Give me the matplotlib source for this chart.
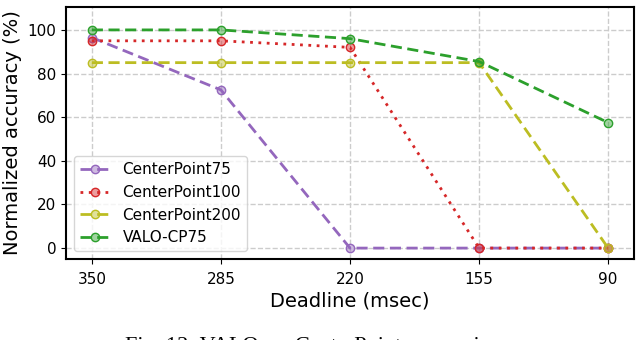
import numpy as np
import matplotlib
matplotlib.use("Agg")
import matplotlib.pyplot as plt
from matplotlib.colors import to_rgba

deadlines = ["350", "285", "220", "155", "90"]
cp75 = [96.5, 72.5, 0, 0, 0]
cp100 = [95, 95, 92, 0, 0]
cp200 = [85, 85, 85, 85, 0]
valo = [100, 100, 96, 85.5, 57.5]

series = [
    ("CenterPoint75", cp75, "#9467bd", (0, (4, 2))),
    ("CenterPoint100", cp100, "#d62728", (0, (1, 2))),
    ("CenterPoint200", cp200, "#bcbd22", (0, (4, 2))),
    ("VALO-CP75", valo, "#2ca02c", (0, (4, 2))),
]

fig = plt.figure(figsize=(6.36, 3.4), dpi=100)
ax = fig.add_axes([66 / 636, 1 - 259 / 340, 568 / 636, 252 / 340])
x = np.arange(len(deadlines))

for name, vals, col, ls in series:
    ax.plot(x, vals, linestyle=ls, color=col, linewidth=2,
            marker="o", markersize=6, markerfacecolor=to_rgba(col, 0.45),
            markeredgecolor=col, markeredgewidth=1, label=name)

ax.set_xticks(x)
ax.set_xticklabels(deadlines)
ax.set_xlim(-0.2, 4.2)
ax.set_ylim(-5, 110.5)
ax.set_yticks([0, 20, 40, 60, 80, 100])
ax.tick_params(labelsize=11)
ax.tick_params(axis="x", pad=6)
ax.grid(True, linestyle="--", color="#cccccc", linewidth=1)
ax.set_axisbelow(True)
for s in ax.spines.values():
    s.set_linewidth(1.5)
ax.set_xlabel("Deadline (msec)", fontsize=14, labelpad=3)
ax.set_ylabel("Normalized accuracy (%)", fontsize=14)
ax.legend(loc="lower left", fontsize=11, handlelength=2, framealpha=0.8,
          borderaxespad=0.5)

fig.text(0.5, -0.018, "Fig. 12: VALO vs. CenterPoint comparison", ha="center",
         va="center", fontsize=16, family="Liberation Serif")

fig.savefig("out.png", dpi=100)
